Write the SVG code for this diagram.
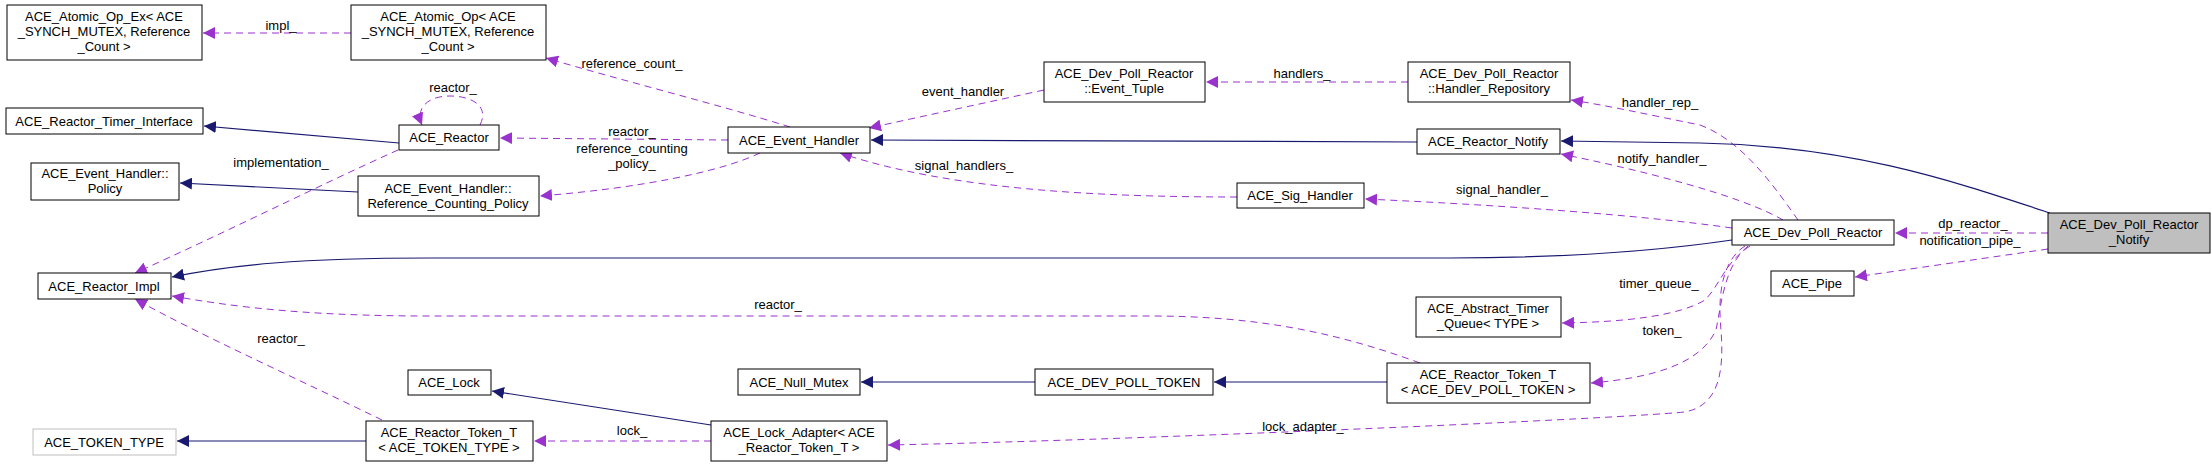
<svg xmlns="http://www.w3.org/2000/svg" width="2212" height="467" viewBox="0 0 2212 467">
<style>
.n rect{fill:#fff;stroke:#000;stroke-width:1}
.g rect{stroke:#bfbfbf}
.h rect{fill:#bfbfbf}
text{font-family:"Liberation Sans",Arial,sans-serif;font-size:13px;fill:#000;text-anchor:middle}
.d{fill:none;stroke:#9a32cd;stroke-dasharray:7,5;stroke-width:1;marker-end:url(#mp)}
.s{fill:none;stroke:#191970;stroke-width:1.2;marker-end:url(#mb)}
</style>
<defs>
<marker id="mp" viewBox="0 0 10 10" refX="10" refY="5" markerWidth="12" markerHeight="12" markerUnits="userSpaceOnUse" orient="auto"><path d="M0,0L10,5L0,10z" fill="#9a32cd"/></marker>
<marker id="mb" viewBox="0 0 10 10" refX="10" refY="5" markerWidth="12" markerHeight="12" markerUnits="userSpaceOnUse" orient="auto"><path d="M0,0L10,5L0,10z" fill="#191970"/></marker>
</defs>
<rect width="2212" height="467" fill="#fff"/>
<g id="edges">
<path class="d" d="M351,33L203,33"/><text x="281" y="30">impl_</text>
<path class="d" d="M790,127C720,105 620,80 546,58"/><text x="632" y="68">reference_count_</text>
<path class="d" d="M728,140L500,138"/><text x="632" y="136">reactor_</text>
<path class="d" d="M760,153C720,172 640,188 540,196"/><text x="632" y="153">reference_counting</text><text x="632" y="168">_policy_</text>
<path class="d" d="M480,125C490,105 470,96 450,96C428,96 415,108 422,125"/><text x="453" y="92">reactor_</text>
<path class="s" d="M399,143L204,126"/>
<path class="s" d="M358,192L180,183"/>
<path class="d" d="M398,150C320,185 220,235 135,273"/><text x="281" y="167">implementation_</text>
<path class="s" d="M1732,240C1650,252 1550,258 1450,258L430,258C300,258 230,265 172,277"/>
<path class="d" d="M1420,363C1330,330 1250,316 1150,316L430,316C300,316 230,306 172,296"/><text x="778" y="309">reactor_</text>
<path class="d" d="M382,420C300,380 200,335 135,299"/><text x="281" y="343">reactor_</text>
<path class="s" d="M366,441L177,441"/>
<path class="s" d="M711,425L492,391"/>
<path class="d" d="M711,441L534,441"/><text x="632" y="435">lock_</text>
<path class="s" d="M1035,382L861,382"/>
<path class="s" d="M1387,382L1214,382"/>
<path class="d" d="M1745,246C1720,262 1718,300 1721,330C1724,370 1720,405 1685,412C1600,420 1100,441 888,445"/><text x="1303" y="431">lock_adapter_</text>
<path class="d" d="M1748,246C1725,265 1722,300 1716,330C1700,365 1650,378 1591,383"/><text x="1662" y="335">token_</text>
<path class="d" d="M1750,246C1725,262 1720,285 1705,300C1680,315 1630,322 1562,323"/><text x="1659" y="288">timer_queue_</text>
<path class="d" d="M1732,228C1640,215 1500,205 1365,199"/><text x="1502" y="194">signal_handler_</text>
<path class="d" d="M1783,220C1740,195 1640,170 1561,154"/><text x="1662" y="163">notify_handler_</text>
<path class="d" d="M1798,220C1770,180 1740,140 1700,125C1650,115 1610,106 1571,100"/><text x="1660" y="107">handler_rep_</text>
<path class="s" d="M2050,213C1950,180 1850,146 1700,143L1561,141"/>
<path class="s" d="M1417,142L871,140"/>
<path class="d" d="M1044,90L869,128"/><text x="963" y="96">event_handler</text>
<path class="d" d="M1408,82L1206,82"/><text x="1302" y="78">handlers_</text>
<path class="d" d="M1237,197C1100,197 950,190 840,153"/><text x="964" y="170">signal_handlers_</text>
<path class="d" d="M2048,233L1895,233"/><text x="1973" y="228">dp_reactor_</text>
<path class="d" d="M2048,249L1855,277"/><text x="1970" y="245">notification_pipe_</text>
</g>
<g id="n1" class="n"><rect x="7" y="5" width="195" height="55"/><text x="104" y="21">ACE_Atomic_Op_Ex&lt; ACE</text><text x="104" y="36">_SYNCH_MUTEX, Reference</text><text x="104" y="51">_Count &gt;</text></g>
<g id="n2" class="n"><rect x="351" y="5" width="195" height="55"/><text x="448" y="21">ACE_Atomic_Op&lt; ACE</text><text x="448" y="36">_SYNCH_MUTEX, Reference</text><text x="448" y="51">_Count &gt;</text></g>
<g id="n3" class="n"><rect x="6" y="108" width="197" height="26"/><text x="104" y="126">ACE_Reactor_Timer_Interface</text></g>
<g id="n4" class="n"><rect x="399" y="125" width="100" height="25"/><text x="449" y="142">ACE_Reactor</text></g>
<g id="n5" class="n"><rect x="31" y="163" width="148" height="37"/><text x="105" y="178">ACE_Event_Handler::</text><text x="105" y="193">Policy</text></g>
<g id="n6" class="n"><rect x="358" y="176" width="181" height="40"/><text x="448" y="193">ACE_Event_Handler::</text><text x="448" y="208">Reference_Counting_Policy</text></g>
<g id="n7" class="n"><rect x="38" y="273" width="133" height="26"/><text x="104" y="291">ACE_Reactor_Impl</text></g>
<g id="n8" class="n g"><rect x="33" y="429" width="143" height="26"/><text x="104" y="447">ACE_TOKEN_TYPE</text></g>
<g id="n9" class="n"><rect x="408" y="370" width="83" height="25"/><text x="449" y="387">ACE_Lock</text></g>
<g id="n10" class="n"><rect x="366" y="421" width="167" height="40"/><text x="449" y="437">ACE_Reactor_Token_T</text><text x="449" y="452">&lt; ACE_TOKEN_TYPE &gt;</text></g>
<g id="n11" class="n"><rect x="728" y="127" width="142" height="26"/><text x="799" y="145">ACE_Event_Handler</text></g>
<g id="n12" class="n"><rect x="1044" y="62" width="161" height="40"/><text x="1124" y="78">ACE_Dev_Poll_Reactor</text><text x="1124" y="93">::Event_Tuple</text></g>
<g id="n13" class="n"><rect x="1408" y="62" width="162" height="40"/><text x="1489" y="78">ACE_Dev_Poll_Reactor</text><text x="1489" y="93">::Handler_Repository</text></g>
<g id="n14" class="n"><rect x="1417" y="129" width="143" height="25"/><text x="1488" y="146">ACE_Reactor_Notify</text></g>
<g id="n15" class="n"><rect x="1237" y="183" width="127" height="25"/><text x="1300" y="200">ACE_Sig_Handler</text></g>
<g id="n16" class="n"><rect x="1732" y="220" width="162" height="25"/><text x="1813" y="237">ACE_Dev_Poll_Reactor</text></g>
<g id="n17" class="n h"><rect x="2048" y="213" width="162" height="40"/><text x="2129" y="229">ACE_Dev_Poll_Reactor</text><text x="2129" y="244">_Notify</text></g>
<g id="n18" class="n"><rect x="1771" y="271" width="83" height="25"/><text x="1812" y="288">ACE_Pipe</text></g>
<g id="n19" class="n"><rect x="1416" y="297" width="145" height="40"/><text x="1488" y="313">ACE_Abstract_Timer</text><text x="1488" y="328">_Queue&lt; TYPE &gt;</text></g>
<g id="n20" class="n"><rect x="1387" y="363" width="203" height="40"/><text x="1488" y="379">ACE_Reactor_Token_T</text><text x="1488" y="394">&lt; ACE_DEV_POLL_TOKEN &gt;</text></g>
<g id="n21" class="n"><rect x="738" y="369" width="122" height="26"/><text x="799" y="387">ACE_Null_Mutex</text></g>
<g id="n22" class="n"><rect x="1035" y="369" width="178" height="26"/><text x="1124" y="387">ACE_DEV_POLL_TOKEN</text></g>
<g id="n23" class="n"><rect x="711" y="421" width="176" height="40"/><text x="799" y="437">ACE_Lock_Adapter&lt; ACE</text><text x="799" y="452">_Reactor_Token_T &gt;</text></g>
</svg>
